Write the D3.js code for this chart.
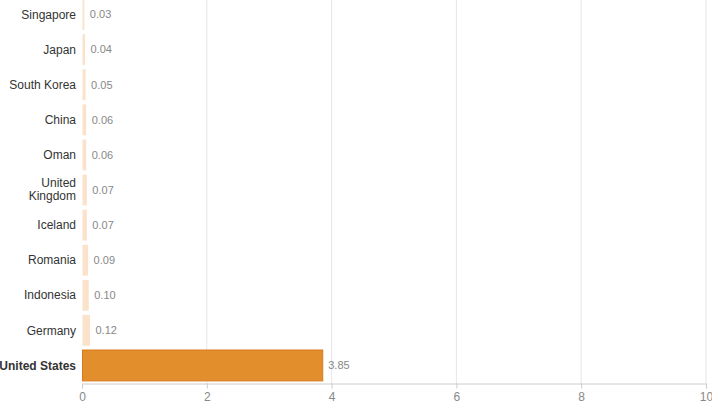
<!DOCTYPE html>
<html><head><meta charset="utf-8">
<script src="https://cdn.jsdelivr.net/npm/d3@7"></script>
<style>body{margin:0;background:#fff;font-family:"Liberation Sans",Arial,Helvetica,sans-serif;}</style>
</head><body><svg id="c" width="712" height="403"></svg>
<script>
const categories = ["Singapore","Japan","South Korea","China","Oman","United Kingdom","Iceland","Romania","Indonesia","Germany","United States"];
const values = [0.03,0.04,0.05,0.06,0.06,0.07,0.07,0.09,0.10,0.12,3.85];
const valueLabels = ["0.03","0.04","0.05","0.06","0.06","0.07","0.07","0.09","0.10","0.12","3.85"];
const highlight = "United States";
const xTicks = [0,2,4,6,8,10];

const svg = d3.select("#c");
const x = d3.scaleLinear().domain([0,10]).range([82,706]);
const y = d3.scaleBand().domain(categories).range([-3,383]).paddingInner(0.12).paddingOuter(0.06);
const axisY = 383.5;

svg.append("g").selectAll("line").data(xTicks.slice(1)).join("line")
  .attr("x1",d=>x(d)).attr("x2",d=>x(d)).attr("y1",0).attr("y2",axisY)
  .attr("stroke","#e6e6e6").attr("stroke-width",1);

const ax = svg.append("g").attr("transform",`translate(0,${axisY})`)
  .call(d3.axisBottom(x).tickValues(xTicks).tickSize(5).tickPadding(4).tickFormat(d3.format("d")));
ax.select(".domain").attr("stroke","#cccccc");
ax.selectAll(".tick line").attr("stroke","#cccccc");
ax.selectAll("text").attr("fill","#888").attr("font-size","12px").attr("font-family","inherit");

const data = categories.map((c,i)=>({c,v:values[i],l:valueLabels[i]}));

svg.append("g").selectAll("rect").data(data).join("rect")
  .attr("x",x(0)+0.5)
  .attr("y",d=>y(d.c))
  .attr("width",d=>x(d.v)-x(0))
  .attr("height",y.bandwidth())
  .attr("fill",d=>d.c===highlight?"#e38e2d":"#fbe3cb")
  .attr("stroke",d=>d.c===highlight?"#d9791a":"none")
  .attr("stroke-width",1);

svg.append("g").selectAll("text").data(data).join("text")
  .attr("x",d=>x(d.v)+6)
  .attr("y",d=>y(d.c)+y.bandwidth()/2)
  .attr("dy","0.35em")
  .attr("fill","#888").attr("font-size","11px")
  .text(d=>d.l);

const lab = svg.append("g").selectAll("text").data(data).join("text")
  .attr("x",76)
  .attr("y",d=>y(d.c)+y.bandwidth()/2)
  .attr("text-anchor","end")
  .attr("fill","#333").attr("font-size","12px")
  .attr("font-weight",d=>d.c===highlight?"bold":"normal");
lab.each(function(d){
  const t=d3.select(this);
  if(d.c==="United Kingdom"){
    t.append("tspan").attr("x",76).attr("dy","-0.25em").text("United");
    t.append("tspan").attr("x",76).attr("dy","1.1em").text("Kingdom");
  } else {
    t.attr("dy","0.35em").text(d.c);
  }
});
</script></body></html>
